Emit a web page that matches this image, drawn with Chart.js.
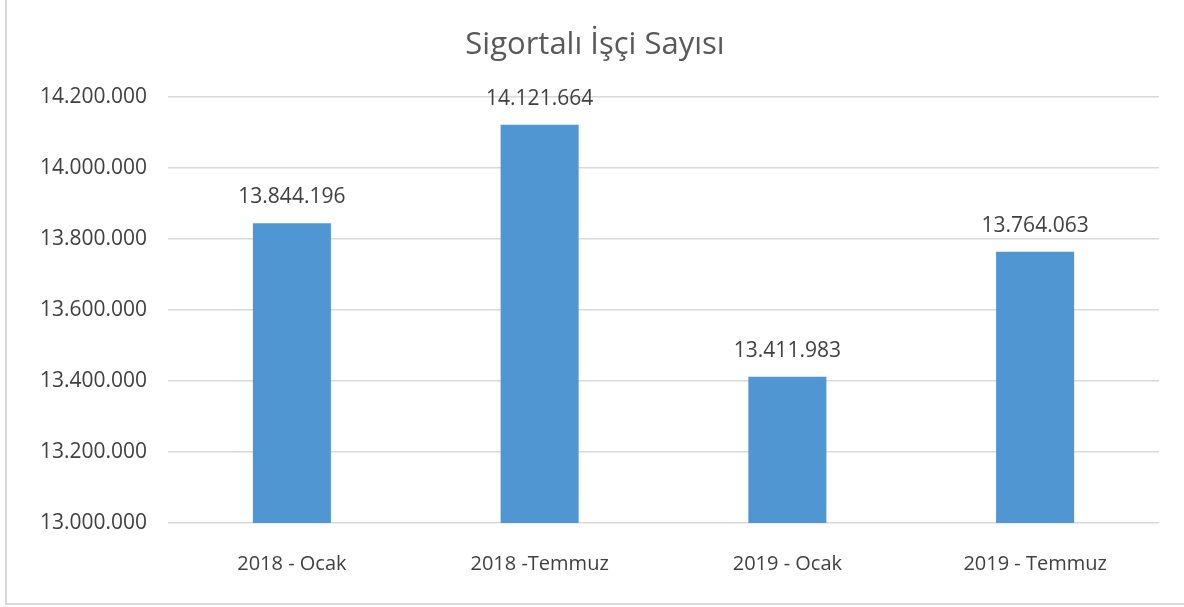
<!DOCTYPE html>
<html lang="tr">
<head>
  <meta charset="UTF-8">
  <title>Sigortalı İşçi Sayısı</title>
  <style>
    body {
      margin: 0;
      padding: 0;
      background: #fff;
    }
    .chart-box {
      width: 1184px;
      height: 607px;
      position: relative;
    }
  </style>
  <script src="https://cdn.jsdelivr.net/npm/chart.js"></script>
</head>
<body>
  <div class="chart-box">
    <canvas id="isci-chart" width="1184" height="607"></canvas>
  </div>

  <script>
    // data
    const categories = ['2018 - Ocak', '2018 -Temmuz', '2019 - Ocak', '2019 - Temmuz'];
    const isciSayisi = [13844196, 14121664, 13411983, 13764063];
    const yTicks = [13000000, 13200000, 13400000, 13600000, 13800000, 14000000, 14200000];

    const FONT = "'Open Sans', sans-serif";

    function formatTR(v) {
      return String(Math.round(v)).replace(/\B(?=(\d{3})+(?!\d))/g, '.');
    }

    // outer frame + title + value labels
    const excelLook = {
      id: 'excelLook',
      beforeDraw(chart) {
        const ctx = chart.ctx;
        ctx.save();
        ctx.strokeStyle = '#d9d9d9';
        ctx.lineWidth = 2;
        ctx.strokeRect(6, -10, 1200, 614);
        ctx.restore();
      },
      afterDatasetsDraw(chart) {
        const ctx = chart.ctx;
        ctx.save();
        ctx.fillStyle = '#595959';
        ctx.font = '31px ' + FONT;
        ctx.textAlign = 'center';
        ctx.textBaseline = 'middle';
        ctx.fillText('Sigortalı İşçi Sayısı', 595, 45);

        ctx.fillStyle = '#404040';
        ctx.font = '21px ' + FONT;
        const meta = chart.getDatasetMeta(0);
        meta.data.forEach((bar, i) => {
          ctx.fillText(formatTR(isciSayisi[i]), bar.x, bar.y - 26);
        });
        ctx.restore();
      }
    };

    document.addEventListener('DOMContentLoaded', function () {
      const ctx = document.getElementById('isci-chart').getContext('2d');
      new Chart(ctx, {
        type: 'bar',
        data: {
          labels: categories,
          datasets: [{
            data: isciSayisi,
            backgroundColor: '#5096d3',
            barPercentage: 0.315,
            categoryPercentage: 1
          }]
        },
        options: {
          responsive: false,
          animation: false,
          layout: {
            padding: { top: 97, right: 25, bottom: 0, left: 0 }
          },
          plugins: {
            legend: { display: false },
            tooltip: { enabled: false }
          },
          scales: {
            x: {
              grid: { display: false, drawTicks: false },
              border: { display: false },
              ticks: {
                color: '#404040',
                font: { family: FONT, size: 20 },
                padding: 29
              },
              afterFit(scale) { scale.height = 84; }
            },
            y: {
              min: 13000000,
              max: 14200000,
              afterBuildTicks(scale) {
                scale.ticks = yTicks.map(v => ({ value: v }));
              },
              grid: { color: '#d9d9d9', lineWidth: 1.5, drawTicks: false },
              border: { display: false },
              ticks: {
                color: '#404040',
                font: { family: FONT, size: 21 },
                padding: 21,
                callback: v => formatTR(v)
              },
              afterFit(scale) { scale.width = 168; }
            }
          }
        },
        plugins: [excelLook]
      });
    });
  </script>
</body>
</html>
